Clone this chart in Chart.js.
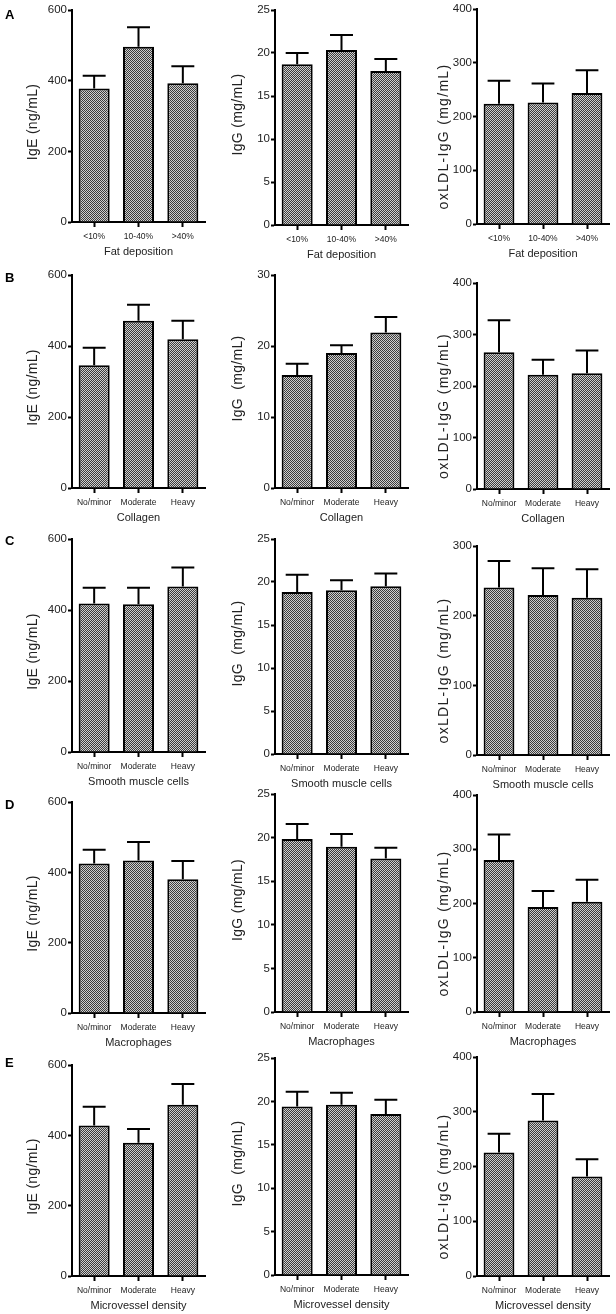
<!DOCTYPE html>
<html>
<head>
<meta charset="utf-8">
<script src="https://cdn.jsdelivr.net/npm/chart.js@4/dist/chart.umd.min.js"></script>
<style>
  html, body { margin: 0; padding: 0; background: #fff; }
  #fig { position: relative; width: 616px; height: 1314px; overflow: hidden; }
  #fig canvas { position: absolute; }
  .letter { position: absolute; font: bold 13px 'Liberation Sans', Arial, sans-serif; color: #000; }
</style>
</head>
<body>
<div id="fig"></div>
<script>
// ---- data ----
const fatLabels = ['<10%', '10-40%', '>40%'];
const gradeLabels = ['No/minor', 'Moderate', 'Heavy'];
const rowTitles = ['Fat deposition', 'Collagen', 'Smooth muscle cells', 'Macrophages', 'Microvessel density'];
const rowLetters = ['A', 'B', 'C', 'D', 'E'];

// IgE (ng/mL): mean and upper error per row
const igeMean = [[378, 496, 393], [346, 471, 419], [418, 416, 466], [425, 434, 380], [428, 379, 487]];
const igeErr  = [[36, 55, 48], [49, 45, 52], [45, 47, 54], [39, 52, 52], [53, 39, 59]];
// IgG (mg/mL)
const iggMean = [[18.7, 20.35, 17.9], [15.9, 19.0, 21.9], [18.85, 19.05, 19.5], [19.85, 18.95, 17.6], [19.4, 19.6, 18.55]];
const iggErr  = [[1.3, 1.75, 1.4], [1.6, 1.1, 2.2], [2.0, 1.15, 1.5], [1.7, 1.45, 1.25], [1.7, 1.4, 1.65]];
// oxLDL-IgG (mg/mL)
const oxMean = [[223.6, 226, 243.5], [265.6, 222, 225], [240.5, 229.5, 225.7], [280, 193.5, 203], [225.7, 283.8, 181.8]];
const oxErr  = [[43, 35.5, 42.5], [62, 29, 44], [38, 38.5, 41], [47, 29.5, 41], [34, 48.8, 31.5]];

// axis ranges
const igeMax = [600, 600, 600, 600, 600];
const igeStep = [200, 200, 200, 200, 200];
const iggMax = [25, 30, 25, 25, 25];
const iggStep = [5, 10, 5, 5, 5];
const oxMax = [400, 400, 300, 400, 400];
const oxStep = [100, 100, 100, 100, 100];

const igeTitle = 'IgE (ng/mL)';
const iggTitles = ['IgG (mg/mL)', 'IgG  (mg/mL)', 'IgG  (mg/mL)', 'IgG (mg/mL)', 'IgG  (mg/mL)'];
const oxTitle = 'oxLDL-IgG (mg/mL)';

// ---- layout (pixels) ----
const colAxisX = [72, 275, 477];
const colLeft = [0, 205, 410];
const colPlotW = [133, 133, 132];
// y title: centre x in canvas, vertical shift from axis middle, font size, letter spacing
const colTitleX = [33, 33, 34];
const colTitleDy = [6, -3, 20];
const colTitleSize = [14, 14, 14];
const colTitleSpacing = [0.3, 0.3, 1.3];
const padTop = 9;
const xAxisH = 40;
const tops = [[10, 10, 9], [275, 275, 283], [539, 539, 546], [802, 794, 795], [1065, 1058, 1057]];
const zeros = [[222, 225, 224], [488, 488, 489], [752, 754, 755], [1013, 1012, 1012], [1276, 1275, 1276]];
const letterY = [7, 270, 533, 797, 1055];

const FONT = "'Liberation Sans', Arial, sans-serif";

// fine dotted bar fill
function makePattern() {
  const c = document.createElement('canvas');
  c.width = 2; c.height = 2;
  const g = c.getContext('2d');
  g.fillStyle = '#3c3c3c';
  g.fillRect(0, 0, 2, 2);
  g.fillStyle = '#cfcfcf';
  g.fillRect(0, 0, 1, 1);
  g.fillRect(1, 1, 1, 1);
  return g.createPattern(c, 'repeat');
}

// upper error bars only
const errorBars = {
  id: 'errorBars',
  afterDatasetsDraw(chart) {
    const ctx = chart.ctx;
    const ds = chart.data.datasets[0];
    const meta = chart.getDatasetMeta(0);
    const ys = chart.scales.y;
    ctx.save();
    ctx.strokeStyle = '#000';
    ctx.lineWidth = 2;
    meta.data.forEach((bar, i) => {
      const yTop = ys.getPixelForValue(ds.data[i] + ds.errors[i]);
      const half = bar.width * 0.37;
      ctx.beginPath();
      ctx.moveTo(bar.x, bar.y);
      ctx.lineTo(bar.x, yTop);
      ctx.moveTo(bar.x - half, yTop);
      ctx.lineTo(bar.x + half, yTop);
      ctx.stroke();
    });
    ctx.restore();
  }
};

// rotated y-axis title, placed like the original figure
const sideTitle = {
  id: 'sideTitle',
  afterDraw(chart, args, opts) {
    const ctx = chart.ctx;
    const a = chart.chartArea;
    ctx.save();
    ctx.font = opts.size + 'px ' + FONT;
    if ('letterSpacing' in ctx) ctx.letterSpacing = opts.spacing + 'px';
    ctx.fillStyle = '#222';
    ctx.textAlign = 'center';
    ctx.textBaseline = 'middle';
    ctx.translate(opts.x, (a.top + a.bottom) / 2 + opts.dy);
    ctx.rotate(-Math.PI / 2);
    ctx.fillText(opts.text, 0, 0);
    ctx.restore();
  }
};

const fig = document.getElementById('fig');
const pattern = makePattern();

function panel(row, col, labels, mean, err, yMax, yStep, yTitle) {
  const top = tops[row][col];
  const zero = zeros[row][col];
  const yW = colAxisX[col] - colLeft[col];
  const w = yW + colPlotW[col] + 4;
  const h = (zero - top) + padTop + xAxisH;
  const cv = document.createElement('canvas');
  cv.width = w; cv.height = h;
  cv.style.left = colLeft[col] + 'px';
  cv.style.top = (top - padTop) + 'px';
  cv.style.width = w + 'px';
  cv.style.height = h + 'px';
  fig.appendChild(cv);

  new Chart(cv, {
    type: 'bar',
    data: {
      labels: labels,
      datasets: [{
        data: mean,
        errors: err,
        backgroundColor: pattern,
        borderColor: '#000',
        borderWidth: 2,
        borderSkipped: 'bottom',
        barPercentage: 0.7,
        categoryPercentage: 1.0
      }]
    },
    options: {
      responsive: false,
      animation: false,
      devicePixelRatio: 1,
      layout: { padding: { top: padTop, right: 4, left: 0, bottom: 0 } },
      plugins: {
        legend: { display: false },
        tooltip: { enabled: false },
        sideTitle: { text: yTitle, x: colTitleX[col], dy: colTitleDy[col],
                     size: colTitleSize[col], spacing: colTitleSpacing[col] }
      },
      scales: {
        x: {
          afterFit: s => { s.height = xAxisH; },
          border: { display: true, color: '#000', width: 2 },
          grid: { display: true, drawOnChartArea: false, drawTicks: true, offset: false,
                  tickLength: 5, tickWidth: 2, tickColor: '#000' },
          ticks: { color: '#222', padding: 5, maxRotation: 0, autoSkip: false,
                   font: { family: FONT, size: 8.5 } },
          title: { display: true, text: rowTitles[row], color: '#222',
                   padding: { top: 0, bottom: 3 }, font: { family: FONT, size: 11 } }
        },
        y: {
          min: 0, max: yMax,
          afterFit: s => { s.width = yW; },
          border: { display: true, color: '#000', width: 2 },
          grid: { display: true, drawOnChartArea: false, drawTicks: true,
                  tickLength: 4, tickWidth: 2, tickColor: '#000' },
          ticks: { stepSize: yStep, color: '#222', padding: 1,
                   font: { family: FONT, size: 11.5 } },
          title: { display: false }
        }
      }
    },
    plugins: [errorBars, sideTitle]
  });
}

for (let r = 0; r < 5; r++) {
  const labels = r === 0 ? fatLabels : gradeLabels;
  panel(r, 0, labels, igeMean[r], igeErr[r], igeMax[r], igeStep[r], igeTitle);
  panel(r, 1, labels, iggMean[r], iggErr[r], iggMax[r], iggStep[r], iggTitles[r]);
  panel(r, 2, labels, oxMean[r], oxErr[r], oxMax[r], oxStep[r], oxTitle);

  const d = document.createElement('div');
  d.className = 'letter';
  d.textContent = rowLetters[r];
  d.style.left = '5px';
  d.style.top = letterY[r] + 'px';
  fig.appendChild(d);
}
</script>
</body>
</html>
